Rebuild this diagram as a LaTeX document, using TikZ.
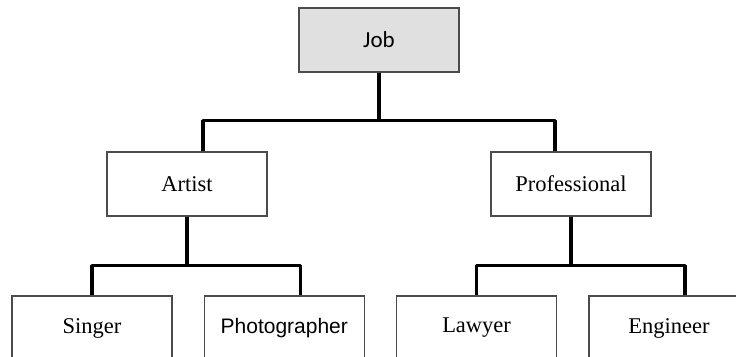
\documentclass[tikz,border=0pt]{standalone}
\usepackage{fontspec}
\setmainfont{Liberation Serif}
\newfontfamily\arialfont{Liberation Sans}
\newfontfamily\calibrifont{Carlito}
\usetikzlibrary{positioning}

\begin{document}
\begin{tikzpicture}[
  x=1pt, y=-1pt,
  font=\fontsize{22.5}{26}\selectfont,
  node distance=31pt,
  box/.style={draw=black!70, line width=1.3pt, minimum width=160pt,
    minimum height=64pt, inner sep=0pt},
  root/.style={box, fill=black!12},
  link/.style={line width=3.4pt, draw=black, line join=round}
]
  \useasboundingbox (0,0) rectangle (736,356);
  \clip (0,0) rectangle (736,356);

  \node[root, font=\calibrifont\fontsize{23}{27}\selectfont] (job) at (379,40) {Job};
  \node[box] (artist) at (187,184) {Artist};
  \node[box] (professional) at (571,184) {Professional};

  \node[box] (singer) at (92,328) {Singer};
  \node[box, right=of singer, font=\arialfont\fontsize{21}{25}\selectfont] (photographer) {Photographer};
  \node[box, right=of photographer] (lawyer) {Lawyer};
  \node[box, right=of lawyer] (engineer) {Engineer};

  \draw[link] (job.south) -- ++(0,48) coordinate (jobfork);
  \draw[link] ([xshift=16pt]artist.north) |- (jobfork) -| ([xshift=-16pt]professional.north);

  \draw[link] (artist.south) -- ++(0,49) coordinate (artistfork);
  \draw[link] (singer.north) |- (artistfork) -| ([xshift=16pt]photographer.north);

  \draw[link] (professional.south) -- ++(0,49) coordinate (professionalfork);
  \draw[link] (lawyer.north) |- (professionalfork) -| ([xshift=16pt]engineer.north);
\end{tikzpicture}
\end{document}
